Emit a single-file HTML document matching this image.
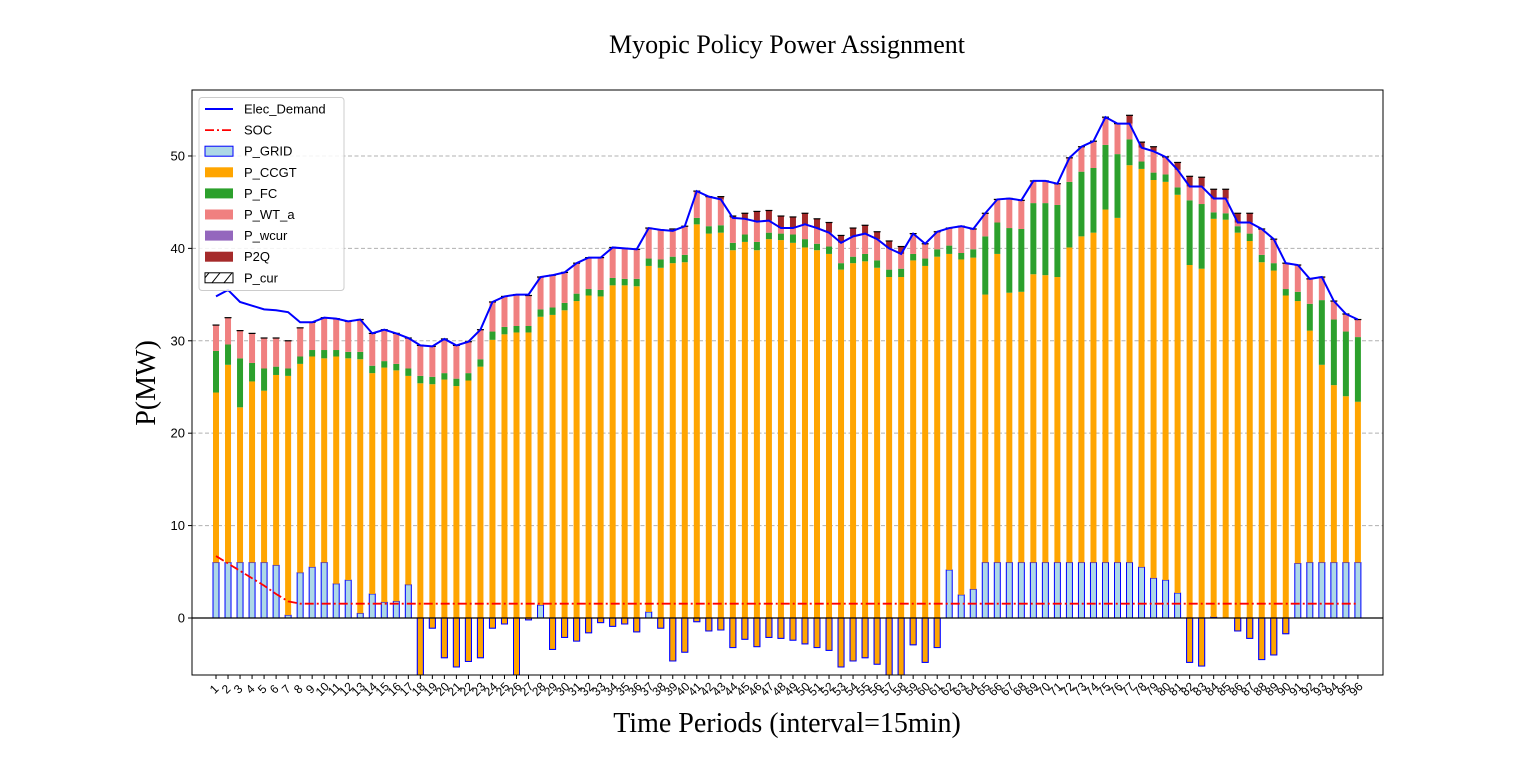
<!DOCTYPE html>
<html><head><meta charset="utf-8"><style>
html,body{margin:0;padding:0;background:#fff;}
svg{display:block;}
</style></head><body>
<svg id="chart" width="1536" height="757" xmlns="http://www.w3.org/2000/svg">
<text x="787" y="53" font-family="Liberation Serif, serif" font-size="26" text-anchor="middle">Myopic Policy Power Assignment</text>
<text transform="translate(155,383) rotate(-90)" font-family="Liberation Serif, serif" font-size="28" text-anchor="middle">P(MW)</text>
<text x="787" y="732" font-family="Liberation Serif, serif" font-size="28" text-anchor="middle">Time Periods (interval=15min)</text>
<g id="grid"></g>
<g id="bars"></g>
<g id="lines"></g>
<g id="axes"></g>
<g id="legend"></g>
</svg>
<script>
const grid=[6,6,6,6,6,5.7,0.3,4.9,5.5,6,3.7,4.1,0.5,2.6,1.7,1.8,3.6,-7,-1.1,-4.3,-5.3,-4.7,-4.3,-1.1,-0.65,-7,-0.2,1.4,-3.4,-2.1,-2.5,-1.6,-0.5,-0.9,-0.65,-1.5,0.65,-1.1,-4.65,-3.7,-0.4,-1.4,-1.3,-3.2,-2.3,-3.1,-2.1,-2.2,-2.4,-2.8,-3.2,-3.5,-5.3,-4.65,-4.3,-5.0,-6.5,-6.3,-2.9,-4.8,-3.2,5.2,2.5,3.1,6,6,6,6,6,6,6,6,6,6,6,6,6,5.5,4.3,4.1,2.7,-4.8,-5.2,0.1,0,-1.4,-2.2,-4.5,-4.0,-1.7,5.9,6,6,6,6,6];
const ccgt=[18.4,21.4,16.8,19.6,18.6,20.6,25.9,22.6,22.8,22.1,24.6,24.0,27.5,23.9,25.4,25.0,22.6,32.4,26.4,30.1,30.4,30.4,31.5,31.2,31.35,37.9,31.1,31.2,36.2,35.4,36.8,36.5,35.3,36.9,36.65,37.4,37.45,39.0,43.05,42.2,43.0,43.0,43.0,43.0,43.0,42.9,43.1,43.1,43.0,42.9,43.0,42.9,43.0,43.05,42.9,42.9,43.4,43.2,41.6,42.9,42.3,34.2,36.3,35.9,29.0,33.4,29.2,29.3,31.2,31.1,30.9,34.1,35.3,35.7,38.2,37.3,43.0,43.1,43.1,43.1,43.1,43.0,43.0,43.1,43.1,43.1,43.0,43.0,41.6,36.6,28.4,25.1,21.4,19.2,18.0,17.4];
const fc=[4.5,2.2,5.3,2.0,2.4,0.9,0.8,0.8,0.7,0.9,0.7,0.7,0.8,0.8,0.7,0.7,0.8,0.8,0.8,0.7,0.8,0.8,0.8,0.9,0.8,0.7,0.7,0.8,0.8,0.8,0.8,0.7,0.7,0.8,0.7,0.8,0.8,0.9,0.7,0.8,0.7,0.8,0.8,0.8,0.8,0.9,0.7,0.7,0.9,0.9,0.7,0.8,0.7,0.7,0.8,0.8,0.8,0.9,0.7,0.8,0.8,0.9,0.7,0.9,6.3,3.4,7.0,6.8,7.7,7.8,7.8,7.1,7.0,7.0,7.0,6.9,2.8,0.8,0.8,0.8,0.8,7.0,7.0,0.7,0.7,0.7,0.8,0.8,0.8,0.7,1.0,2.9,7.0,7.1,7.0,7.0];
const wt=[2.8,2.9,3.0,3.2,3.3,3.1,3.0,3.1,3.0,3.5,3.4,3.3,3.5,3.5,3.4,3.3,3.3,3.3,3.3,3.7,3.6,3.4,3.2,3.2,3.3,3.4,3.3,3.5,3.5,3.3,3.3,3.4,3.5,3.3,3.3,3.2,3.3,3.2,3.0,3.1,2.9,3.2,2.8,2.7,1.7,2.2,1.3,0.6,0.7,1.6,1.7,1.5,2.2,2.2,2.2,2.3,2.3,1.6,2.2,1.6,1.9,1.9,2.9,2.2,2.5,2.5,3.2,3.1,2.4,2.4,2.3,2.6,2.7,2.9,3.0,3.3,1.7,1.5,2.3,1.9,1.9,1.5,1.9,1.5,1.6,0.4,1.2,2.8,2.6,2.8,2.9,2.7,2.5,2.0,1.9,1.9];
const p2q=[0,0,0,0,0,0,0,0,0,0,0,0,0,0,0,0,0,0,0,0,0,0,0,0,0,0,0,0,0,0,0,0,0,0,0,0,0,0,0,0,0,0,0.3,0.2,0.6,1.1,1.1,1.3,1.2,1.2,1.0,1.1,0.8,0.9,0.9,0.8,0.8,0.8,0,0,0,0,0,0,0,0,0,0,0,0,0,0,0,0,0,0,0.9,0.6,0.5,0,0.8,1.1,1.0,1.0,1.0,1.0,1.0,0,0,0,0,0,0,0,0,0];
const demand=[34.8,35.5,34.2,33.8,33.4,33.3,33.1,32.0,32.0,32.5,32.4,32.1,32.3,30.8,31.2,30.8,30.3,29.5,29.4,30.2,29.5,29.9,31.2,34.2,34.8,35.0,35.0,36.9,37.1,37.4,38.4,39.0,39.0,40.1,40.0,39.9,42.2,42.0,41.9,42.4,46.2,45.6,45.3,43.3,43.2,42.9,43.0,42.2,42.2,42.6,42.2,41.7,40.6,41.3,41.6,41.0,40.0,39.4,41.6,40.5,41.8,42.2,42.4,42.1,43.8,45.3,45.4,45.2,47.3,47.3,47.0,49.8,51.0,51.6,54.2,53.5,53.5,50.9,50.5,49.9,48.5,46.7,46.7,45.4,45.4,42.8,42.8,42.1,41.0,38.4,38.2,36.7,36.9,34.3,32.9,32.3];
const soc=[6.7,5.9,5.1,4.3,3.5,2.6,1.8].concat(new Array(89).fill(1.55));
const yTicks=[0,10,20,30,40,50];
const periods=Array.from({length:96},(_,i)=>String(i+1));

const NS='http://www.w3.org/2000/svg';
const L=192,R=1383,T=90,B=675;
const yMin=-6.17,yMax=57.14;
const y=v=>B-(v-yMin)/(yMax-yMin)*(B-T);
const x=i=>216+i*12.02;
const BW=6.0;
function mk(tag,attrs,parent){const e=document.createElementNS(NS,tag);for(const k in attrs)e.setAttribute(k,attrs[k]);parent.appendChild(e);return e;}
const gGrid=document.getElementById('grid'),gBars=document.getElementById('bars'),gLines=document.getElementById('lines'),gAxes=document.getElementById('axes'),gLeg=document.getElementById('legend');

// clip
const defs=mk('defs',{},document.getElementById('chart'));
const cp=mk('clipPath',{id:'pc'},defs);
mk('rect',{x:L,y:T,width:R-L,height:B-T},cp);
gBars.setAttribute('clip-path','url(#pc)');
gLines.setAttribute('clip-path','url(#pc)');

yTicks.forEach(t=>{
  if(t!==0){const ln=mk('line',{x1:L,x2:R,y1:y(t),y2:y(t),stroke:'#b0b0b0','stroke-dasharray':'4,2.5','stroke-width':1},gGrid);
  
  }
  const tk=mk('line',{x1:L-4,x2:L,y1:y(t),y2:y(t),stroke:'#000'},gAxes);
  
  
  const tx=mk('text',{x:L-7,y:y(t)+4.5,'font-family':'Liberation Sans, sans-serif','font-size':13,'text-anchor':'end'},gAxes);
  tx.textContent=t;
  
  
});

function bar(i,lo,hi,fill,name){
  const r=mk('rect',{x:x(i)-BW/2,y:y(Math.max(lo,hi)),width:BW,height:Math.abs(y(lo)-y(hi)),fill:fill},gBars);
  
  
  return r;
}
for(let i=0;i<96;i++){
  const g=grid[i];
  const gr=bar(i,0,g,'#a6cee3','bar-grid-'+(i+1));
  gr.setAttribute('fill','#add8e6');gr.setAttribute('stroke','#0000ff');gr.setAttribute('stroke-width',1);
  let b=g;
  bar(i,b,b+ccgt[i],'#ffa500','bar-ccgt-'+(i+1));b+=ccgt[i];
  if(g<0){const o=mk('rect',{x:x(i)-BW/2,y:y(0),width:BW,height:y(g)-y(0),fill:'none',stroke:'#0000ff','stroke-width':1},gBars);
    
    
    b=Math.max(b,0);}
  bar(i,b,b+fc[i],'#2ca02c','bar-fc-'+(i+1));b+=fc[i];
  bar(i,b,b+wt[i],'#f08080','bar-wt-'+(i+1));b+=wt[i];
  if(p2q[i]>0){bar(i,b,b+p2q[i],'#a52a2a','bar-p2q-'+(i+1));b+=p2q[i];}
  const cap=mk('line',{x1:x(i)-BW/2-0.5,x2:x(i)+BW/2+0.5,y1:y(b),y2:y(b),stroke:'#000','stroke-width':1.2},gBars);
  
  
}
const zl=mk('line',{x1:L,x2:R,y1:y(0),y2:y(0),stroke:'#000','stroke-width':1.3},gLines);


const dl=mk('polyline',{points:demand.map((v,i)=>x(i)+','+y(v)).join(' '),fill:'none',stroke:'#0000ff','stroke-width':2},gLines);


const sl=mk('polyline',{points:soc.map((v,i)=>x(i)+','+y(v)).join(' '),fill:'none',stroke:'#ff0000','stroke-width':1.8,'stroke-dasharray':'9,3,2,3'},gLines);



mk('rect',{x:L,y:T,width:R-L,height:B-T,fill:'none',stroke:'#000','stroke-width':1},gAxes);
periods.forEach((p,i)=>{
  const tk=mk('line',{x1:x(i),x2:x(i),y1:B,y2:B+4,stroke:'#000'},gAxes);
  
  
  const tx=mk('text',{transform:'translate('+(x(i)+1)+','+(B+17)+') rotate(-45)','font-family':'Liberation Sans, sans-serif','font-size':12,'text-anchor':'middle'},gAxes);
  tx.textContent=p;
  
  
});

// legend
const lb=mk('rect',{x:199,y:97.5,width:145,height:193,fill:'#fff','fill-opacity':0.85,stroke:'#ccc',rx:3},gLeg);


const items=[['Elec_Demand','line'],['SOC','dash'],['P_GRID','#add8e6'],['P_CCGT','#ffa500'],['P_FC','#2ca02c'],['P_WT_a','#f08080'],['P_wcur','#9467bd'],['P2Q','#a52a2a'],['P_cur','hatch']];
items.forEach((it,k)=>{
  const cy=109+k*21.1;
  const g=mk('g',{},gLeg);
  
  
  if(it[1]==='line')mk('line',{x1:205,x2:233,y1:cy,y2:cy,stroke:'#0000ff','stroke-width':2},g);
  else if(it[1]==='dash')mk('line',{x1:205,x2:233,y1:cy,y2:cy,stroke:'#ff0000','stroke-width':1.8,'stroke-dasharray':'9,3,2,3'},g);
  else if(it[1]==='hatch'){mk('rect',{x:205,y:cy-5,width:28,height:10,fill:'#fff',stroke:'#000','stroke-width':1},g);
    mk('line',{x1:212,x2:220,y1:cy+5,y2:cy-5,stroke:'#000'},g);mk('line',{x1:205,x2:209,y1:cy,y2:cy-5,stroke:'#000'},g);mk('line',{x1:224,x2:232,y1:cy+5,y2:cy-5,stroke:'#000'},g);}
  else mk('rect',{x:205,y:cy-5,width:28,height:10,fill:it[1],stroke:it[0]==='P_GRID'?'#0000ff':'none','stroke-width':1},g);
  const t=mk('text',{x:244,y:cy+4.5,'font-family':'Liberation Sans, sans-serif','font-size':13},g);
  t.textContent=it[0];
});
</script>
</body></html>
